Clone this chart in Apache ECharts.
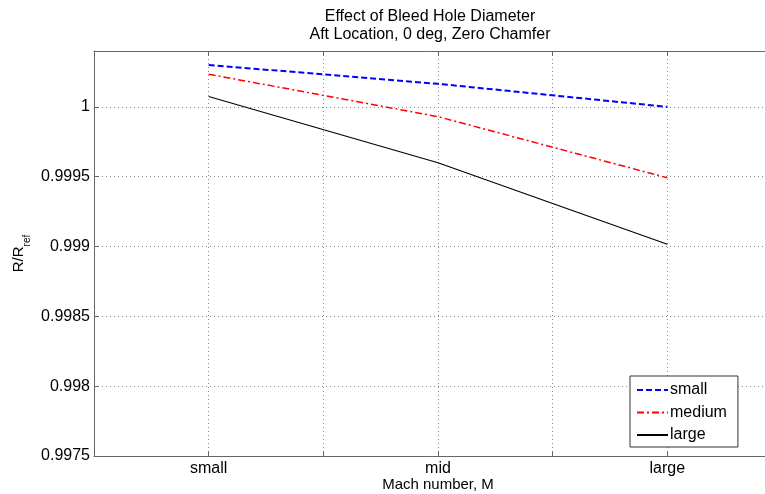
<!DOCTYPE html>
<html>
<head>
<meta charset="utf-8">
<script src="https://cdn.jsdelivr.net/npm/echarts@6/dist/echarts.min.js"></script>
<style>html,body{margin:0;padding:0;background:#fff}#c{width:765px;height:494px}</style>
</head>
<body>
<div id="c"></div>
<script>
// Data
const categories = ['small', 'mid', 'large'];
const categoryPos = [1, 2, 3];
const seriesNames = ['small', 'medium', 'large'];
const smallVals = [1.0003, 1.000165, 1.00000];
const mediumVals = [1.000234, 0.99993, 0.999492];
const largeVals = [1.000074, 0.999600, 0.999016];
const yTicks = [0.9975, 0.998, 0.9985, 0.999, 0.9995, 1];

const FONT = '"Liberation Sans", Arial, sans-serif';
const chart = echarts.init(document.getElementById('c'), null, {renderer: 'canvas'});

function pts(vals) { return vals.map((v, i) => [categoryPos[i], v]); }

const xLabelFmt = v => {
  const i = categoryPos.findIndex(p => Math.abs(p - v) < 1e-9);
  return i >= 0 ? categories[i] : '';
};
const yLabelFmt = v => {
  const i = yTicks.findIndex(t => Math.abs(t - v) < 1e-9);
  return i >= 0 ? String(yTicks[i]) : '';
};

const axisCommon = {
  axisLine: {show: true, lineStyle: {color: '#666', width: 1}},
  axisTick: {show: true, inside: true, length: 5, lineStyle: {color: '#666'}},
};

chart.setOption({
  animation: false,
  backgroundColor: '#fff',
  textStyle: {fontFamily: FONT},
  title: {
    text: 'Effect of Bleed Hole Diameter\nAft Location, 0 deg, Zero Chamfer',
    left: 425, top: 3, textAlign: 'center',
    textStyle: {fontFamily: FONT, fontSize: 16, fontWeight: 'normal', color: '#000', lineHeight: 18}
  },
  grid: {left: 94, top: 51, width: 688, height: 405, show: false, outerBoundsMode: 'none', containLabel: false},
  xAxis: [{
    type: 'value', min: 0.5, max: 3.5, interval: 0.5, position: 'bottom',
    name: 'Mach number, M', nameLocation: 'middle', nameGap: 29, nameMoveOverlap: false,
    nameTextStyle: {fontFamily: FONT, fontSize: 15, color: '#000', verticalAlign: 'middle'},
    ...axisCommon,
    axisLabel: {formatter: xLabelFmt, fontFamily: FONT, fontSize: 16, color: '#000', margin: 5},
    splitLine: {show: true, lineStyle: {color: '#888', type: [1, 3], width: 1}}
  }, {
    type: 'value', min: 0.5, max: 3.5, interval: 0.5, position: 'top',
    ...axisCommon,
    axisLabel: {show: false}, splitLine: {show: false}
  }],
  yAxis: [{
    type: 'value', min: 0.9975, max: 1.0004, interval: 0.0005,
    name: '{a|R/R}{b|ref}', nameLocation: 'middle', nameGap: 68, nameMoveOverlap: false,
    nameTextStyle: {
      fontFamily: FONT, color: '#000',
      rich: {a: {fontSize: 15, fontFamily: FONT, color: '#000'}, b: {fontSize: 10, fontFamily: FONT, color: '#000', verticalAlign: 'bottom', padding: [0, 0, -6, 0]}}
    },
    ...axisCommon,
    axisLabel: {formatter: yLabelFmt, fontFamily: FONT, fontSize: 16, color: '#000', margin: 4},
    splitLine: {show: true, lineStyle: {color: '#888', type: [1, 3], width: 1}}
  }],
  legend: {
    orient: 'vertical', left: 630, top: 376, padding: [6, 11, 4, 6],
    itemWidth: 31, itemHeight: 16, itemGap: 6.5,
    backgroundColor: '#fff', borderColor: '#333', borderWidth: 1,
    itemStyle: {opacity: 0},
    textStyle: {fontFamily: FONT, fontSize: 16, lineHeight: 16, color: '#000', padding: [0, 0, 0, -3]},
    data: seriesNames
  },
  series: [
    {name: seriesNames[0], type: 'line', data: pts(smallVals), symbol: 'none',
     lineStyle: {color: '#0000ff', width: 2, type: [6, 3]}, itemStyle: {color: '#0000ff'}},
    {name: seriesNames[1], type: 'line', data: pts(mediumVals), symbol: 'none',
     lineStyle: {color: '#ff0000', width: 1.5, type: [7, 3, 2, 3]}, itemStyle: {color: '#ff0000'}},
    {name: seriesNames[2], type: 'line', data: pts(largeVals), symbol: 'none',
     lineStyle: {color: '#000000', width: 1.2}, itemStyle: {color: '#000000'}}
  ]
});
</script>
</body>
</html>
